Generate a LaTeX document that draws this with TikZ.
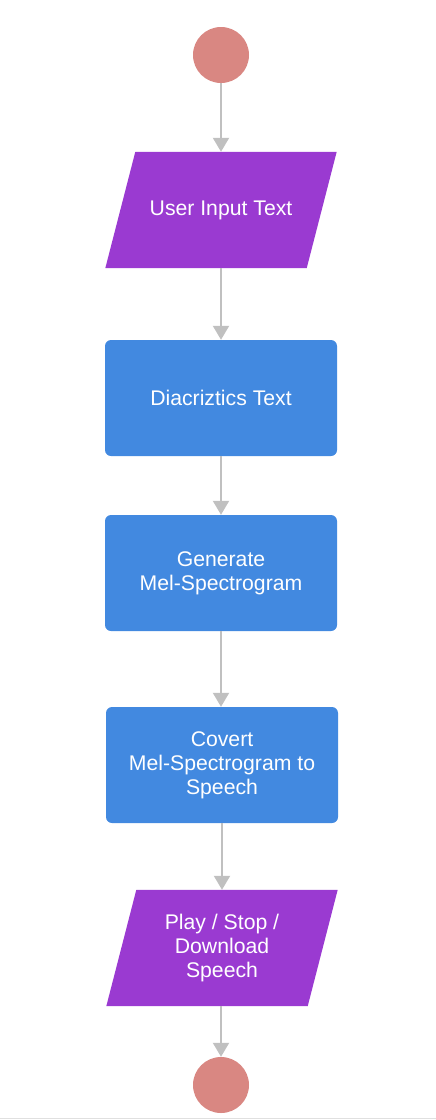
\documentclass[tikz,border=0pt]{standalone}
\usepackage{fontspec}
\setmainfont{Liberation Sans}
\usetikzlibrary{arrows.meta,calc,backgrounds}
\definecolor{termcol}{HTML}{D98782}
\definecolor{iocol}{HTML}{9A3AD1}
\definecolor{stepcol}{HTML}{4289E0}
\definecolor{linecol}{HTML}{C0C0C0}
\begin{document}
\begin{tikzpicture}[
        x=1pt, y=-1pt,
        every node/.style={font=\fontsize{21.2}{24}\selectfont, text=white, align=center},
        terminal/.style={circle, fill=termcol, minimum size=56pt, inner sep=0pt},
        iobox/.style={rectangle, minimum width=201pt, minimum height=116pt, inner sep=0pt},
        stepbox/.style={rectangle, rounded corners=6pt, fill=stepcol, minimum width=232pt, minimum height=116pt, inner sep=0pt},
        flow/.style={-{Triangle[width=16pt,length=14pt]}, draw=linecol, line width=2pt}
    ]
        % page area
        \useasboundingbox (0,0) rectangle (436,1120);
        \draw[draw=black!12, line width=1pt] (0,1118.5) -- (436,1118.5);

        % start and stop
        \node[terminal] (start) at (221,55) {};
        \node[terminal] (stop) at (221,1085) {};

        % steps
        \node[iobox] (input) at (221,210) {User Input Text};
        \node[stepbox] (diac) at (221,398) {Diacriztics Text};
        \node[stepbox] (mel) at (221,573) {Generate\\Mel-Spectrogram};
        \node[stepbox] (conv) at (222,765) {Covert\\Mel-Spectrogram to\\Speech};
        \node[iobox] (play) at (222,948) {Play / Stop /\\Download\\Speech};

        % slanted input/output shapes
        \begin{scope}[on background layer]
            \foreach \io in {input, play}
                \fill[iocol] ($(\io.south west)+(-15,0)$) -- ($(\io.south east)+(-15,0)$)
                    -- ($(\io.north east)+(15,0)$) -- ($(\io.north west)+(15,0)$) -- cycle;
        \end{scope}

        % connectors
        \draw[flow] (start) -- (input);
        \draw[flow] (input) -- (diac);
        \draw[flow] (diac) -- (mel);
        \draw[flow] (mel) -- (mel |- conv.north);
        \draw[flow] (conv) -- (play);
        \draw[flow] (play.south -| stop) -- (stop);
    \end{tikzpicture}
\end{document}
